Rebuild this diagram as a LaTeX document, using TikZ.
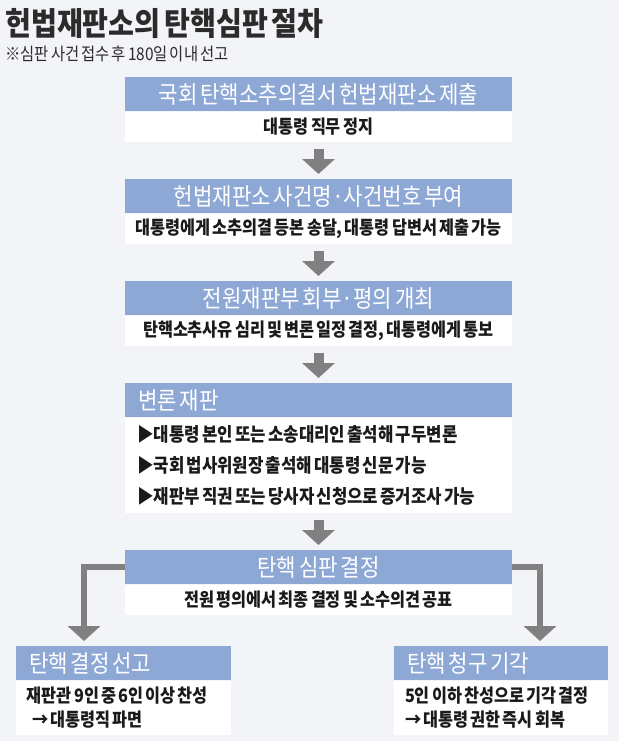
\documentclass[tikz,border=0pt]{standalone}
\usepackage{fontspec}
\usepackage{tikz}
\usetikzlibrary{arrows.meta}
\newfontfamily\kr[FakeStretch=0.88,WordSpace=0.6]{Noto Sans CJK KR}
\definecolor{pagebg}{HTML}{F2F4F8}
\definecolor{hdrblue}{HTML}{8EA8D6}
\definecolor{flowgray}{HTML}{808080}
\definecolor{titleink}{HTML}{2B2B2B}
\definecolor{bodyink}{HTML}{1A1A1A}
\newcommand\titlefont{\kr\bfseries\fontsize{32}{36}\selectfont}
\newcommand\notefont{\kr\fontsize{17.5}{20}\selectfont}
\newcommand\hdrfont{\kr\fontsize{24}{28}\selectfont}
\newcommand\bodyfont{\kr\bfseries\fontsize{18.5}{22}\selectfont}
\newcommand\listfont{\kr\bfseries\fontsize{19}{31}\selectfont}
\newcommand\outfont{\kr\bfseries\fontsize{18.5}{24}\selectfont}
\tikzset{
  hdr/.style={fill=hdrblue, text=white, minimum width=387pt, minimum height=34pt, inner sep=0pt, font=\hdrfont, anchor=north},
  hdrL/.style={hdr, align=flush left, inner xsep=13pt, text width=#1},
  body/.style={fill=white, text=bodyink, minimum width=387pt, minimum height=30pt, inner sep=0pt, font=\bodyfont, anchor=north},
  bodyL/.style={body, align=flush left, inner xsep=11pt, text width=#1},
  flow/.style={draw=flowgray, line width=10pt, -{Triangle[width=32pt,length=15pt]}},
  elbow/.style={draw=flowgray, line width=6pt, -{Triangle[width=32pt,length=15pt]}}
}

\begin{document}
\begin{tikzpicture}[x=1pt,y=-1pt]
  \fill[pagebg] (0,0) rectangle (619,741);
  \useasboundingbox (0,0) rectangle (619,741);

  \node[anchor=west, inner sep=0pt, font=\titlefont, text=titleink] (title) at (5,24) {헌법재판소의 탄핵심판 절차};
  \node[anchor=west, inner sep=0pt, font=\notefont, text=titleink] (note) at (5,54) {※심판 사건 접수 후 180일 이내 선고};

  % main column
  \node[hdr] (h1) at (318.5,77) {국회 탄핵소추의결서 헌법재판소 제출};
  \node[body] (b1) at (h1.south) {대통령 직무 정지};

  \node[hdr] (h2) at (318.5,179) {헌법재판소 사건명·사건번호 부여};
  \node[body] (b2) at (h2.south) {대통령에게 소추의결 등본 송달, 대통령 답변서 제출 가능};

  \node[hdr] (h3) at (318.5,281) {전원재판부 회부·평의 개최};
  \node[body] (b3) at (h3.south) {탄핵소추사유 심리 및 변론 일정 결정, 대통령에게 통보};

  \node[hdrL=361pt] (h4) at (318.5,383) {변론 재판};
  \node[bodyL=363pt, inner xsep=12pt, minimum height=95pt, font=\listfont] (b4) at (h4.south)
    {▶대통령 본인 또는 소송대리인 출석해 구두변론\\▶국회 법사위원장 출석해 대통령 신문 가능\\▶재판부 직권 또는 당사자 신청으로 증거조사 가능};

  \node[hdr] (h5) at (318.5,550) {탄핵 심판 결정};
  \node[body] (b5) at (h5.south) {전원 평의에서 최종 결정 및 소수의견 공표};

  % outcomes
  \node[hdrL=189pt, minimum width=215pt] (hl) at (123.5,646) {탄핵 결정 선고};
  \node[bodyL=193pt, minimum width=215pt, minimum height=54pt, font=\outfont] (bl) at (hl.south)
    {재판관 9인 중 6인 이상 찬성\\\hspace*{5pt}→ 대통령직 파면};

  \node[hdrL=188pt, minimum width=214pt] (hr) at (501,646) {탄핵 청구 기각};
  \node[bodyL=192pt, minimum width=214pt, minimum height=54pt, font=\outfont] (br) at (hr.south)
    {5인 이하 찬성으로 기각 결정\\→ 대통령 권한 즉시 회복};

  \draw[flow] ([yshift=-7pt]b1.south) -- ([yshift=5pt]h2.north);
  \draw[flow] ([yshift=-7pt]b2.south) -- ([yshift=5pt]h3.north);
  \draw[flow] ([yshift=-7pt]b3.south) -- ([yshift=5pt]h4.north);
  \draw[flow] ([yshift=-7pt]b4.south) -- ([yshift=5pt]h5.north);

  \draw[elbow] (h5.west) -| ([xshift=-39.5pt,yshift=5pt]hl.north);
  \draw[elbow] (h5.east) -| ([xshift=39pt,yshift=5pt]hr.north);
\end{tikzpicture}
\end{document}
